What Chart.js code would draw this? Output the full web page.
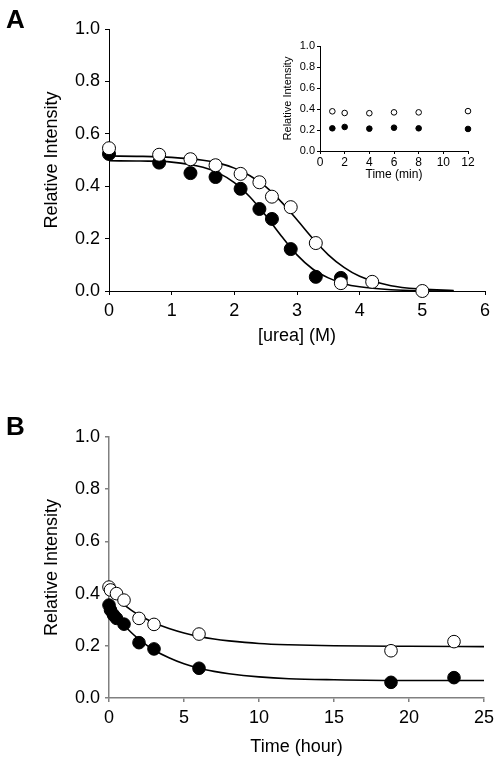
<!DOCTYPE html>
<html>
<head>
<meta charset="utf-8">
<script src="https://cdn.jsdelivr.net/npm/chart.js@4.4.1/dist/chart.umd.min.js"></script>
<style>
  html, body { margin: 0; padding: 0; background: #fff; }
  #wrap { position: relative; width: 500px; height: 765px; overflow: hidden; background: #fff; }
  canvas { position: absolute; }
  .lbl { position: absolute; font-family: "Liberation Sans", Arial, sans-serif; font-weight: bold; font-size: 26px; color: #000; line-height: 1; }
</style>
</head>
<body>
<div id="wrap">
  <canvas id="cA" width="500" height="380" style="left:0;top:0;"></canvas>
  <canvas id="cI" width="230" height="160" style="left:270px;top:30px;"></canvas>
  <canvas id="cB" width="500" height="385" style="left:0;top:380px;"></canvas>
  <div class="lbl" style="left:6px;top:6px;">A</div>
  <div class="lbl" style="left:6px;top:413px;">B</div>
</div>
<script>
// ---------- Panel A: urea denaturation ----------
const ureaFilledX = [0, 0.8, 1.3, 1.7, 2.1, 2.4, 2.6, 2.9, 3.3, 3.7];
const ureaFilledY = [0.523, 0.49, 0.45, 0.435, 0.39, 0.313, 0.275, 0.16, 0.054, 0.05];
const ureaOpenX = [0, 0.8, 1.3, 1.7, 2.1, 2.4, 2.6, 2.9, 3.3, 3.7, 4.2, 5.0];
const ureaOpenY = [0.545, 0.52, 0.503, 0.48, 0.447, 0.415, 0.36, 0.32, 0.183, 0.03, 0.035, 0.0];
// fitted curves
const ureaFitX = [0, 0.5, 1, 1.5, 1.75, 2, 2.25, 2.5, 2.75, 3, 3.25, 3.5, 3.75, 4, 4.5, 5, 5.5];
const ureaFitFilledY = [0.497, 0.496, 0.492, 0.472, 0.450, 0.414, 0.359, 0.288, 0.210, 0.138, 0.084, 0.050, 0.028, 0.016, 0.005, 0.001, 0.000];
const ureaFitOpenY = [0.515, 0.514, 0.510, 0.499, 0.488, 0.469, 0.440, 0.398, 0.340, 0.272, 0.201, 0.138, 0.090, 0.056, 0.020, 0.007, 0.002];
const ureaXTicks = [0, 1, 2, 3, 4, 5, 6];
const intensityTicks = [0, 0.2, 0.4, 0.6, 0.8, 1.0];

// ---------- Inset: time (min) ----------
const insetX = [1, 2, 4, 6, 8, 12];
const insetOpenY = [0.378, 0.362, 0.36, 0.368, 0.368, 0.38];
const insetFilledY = [0.216, 0.229, 0.213, 0.222, 0.216, 0.21];
const insetXTicks = [0, 2, 4, 6, 8, 10, 12];

// ---------- Panel B: time (hour) ----------
const timeFilledX = [0, 0.1, 0.3, 0.5, 1, 2, 3, 6, 18.8, 23];
const timeFilledY = [0.356, 0.337, 0.318, 0.305, 0.283, 0.212, 0.188, 0.114, 0.06, 0.078];
const timeOpenX = [0, 0.1, 0.5, 1, 2, 3, 6, 18.8, 23];
const timeOpenY = [0.425, 0.414, 0.40, 0.375, 0.305, 0.282, 0.245, 0.181, 0.216];
const decayFitX = [0, 0.5, 1, 1.5, 2, 3, 4, 5, 6, 7, 8, 10, 12, 15, 20, 25];
const decayFitFilledY = [0.357, 0.317, 0.281, 0.250, 0.225, 0.184, 0.154, 0.131, 0.114, 0.102, 0.093, 0.081, 0.074, 0.070, 0.067, 0.067];
const decayFitOpenY = [0.412, 0.383, 0.358, 0.336, 0.318, 0.288, 0.266, 0.249, 0.236, 0.226, 0.219, 0.209, 0.204, 0.200, 0.198, 0.197];
const timeXTicks = [0, 5, 10, 15, 20, 25];

const FONT = '"Liberation Sans", Arial, sans-serif';
const zip = (xs, ys) => xs.map((x, i) => ({x: x, y: ys[i]}));

function pointsDS(xs, ys, filled, r, order) {
  return {
    type: 'scatter', data: zip(xs, ys), showLine: false, order: order, clip: false,
    pointRadius: r, pointHoverRadius: r,
    pointBackgroundColor: filled ? '#000' : '#fff',
    pointBorderColor: '#000', pointBorderWidth: 1
  };
}
function lineDS(xs, ys, order) {
  return {
    type: 'scatter', data: zip(xs, ys), showLine: true, order: order, clip: false,
    borderColor: '#000', borderWidth: 1.6, pointRadius: 0, pointHoverRadius: 0,
    fill: false, cubicInterpolationMode: 'monotone'
  };
}
function axis(o) {
  return {
    type: 'linear', position: o.position, min: o.min, max: o.max,
    afterBuildTicks: a => { a.ticks = o.ticks.map(v => ({value: v})); },
    afterFit: s => { if (o.position === 'left') s.width = o.size; else s.height = o.size; },
    ticks: {
      color: '#000', font: {family: FONT, size: o.font}, padding: o.pad,
      maxRotation: 0, autoSkip: false,
      callback: o.fmt
    },
    grid: {display: true, drawOnChartArea: false, drawTicks: true, tickLength: o.tick, color: o.color, lineWidth: o.lw},
    border: {display: true, color: o.color, width: o.lw},
    title: {display: true, text: o.title, color: '#000', font: {family: FONT, size: o.tfont}, padding: o.tpad}
  };
}
function baseOptions(pad, xAx, yAx) {
  return {
    responsive: false, animation: false, devicePixelRatio: 1,
    layout: {padding: pad},
    plugins: {legend: {display: false}, tooltip: {enabled: false}},
    events: [],
    scales: {x: xAx, y: yAx}
  };
}
const f1 = v => v.toFixed(1);
const f0 = v => String(v);

// Panel A
new Chart(document.getElementById('cA'), {
  type: 'scatter',
  data: {datasets: [
    lineDS(ureaFitX, ureaFitFilledY, 3),
    lineDS(ureaFitX, ureaFitOpenY, 3),
    pointsDS(ureaFilledX, ureaFilledY, true, 6.5, 2),
    pointsDS(ureaOpenX, ureaOpenY, false, 6.5, 1)
  ]},
  options: baseOptions({left: 0, top: 29, right: 15, bottom: 29},
    axis({position: 'bottom', min: 0, max: 6, ticks: ureaXTicks, size: 60, font: 18, pad: 5, fmt: f0, tick: 4, color: '#000', lw: 1, title: '[urea] (M)', tfont: 18, tpad: {top: 0, bottom: 4}}),
    axis({position: 'left', min: 0, max: 1, ticks: intensityTicks, size: 109, font: 18, pad: 5, fmt: f1, tick: 4, color: '#000', lw: 1, title: 'Relative Intensity', tfont: 18, tpad: {top: 41, bottom: 0}})
  )
});

// Inset
new Chart(document.getElementById('cI'), {
  type: 'scatter',
  data: {datasets: [
    pointsDS(insetX, insetFilledY, true, 2.8, 1),
    pointsDS(insetX, insetOpenY, false, 2.8, 0)
  ]},
  options: baseOptions({left: 0, top: 16, right: 32, bottom: 3},
    axis({position: 'bottom', min: 0, max: 12, ticks: insetXTicks, size: 36, font: 12, pad: 1, fmt: f0, tick: 3, color: '#000', lw: 1, title: 'Time (min)', tfont: 12, tpad: {top: 0, bottom: 5}}),
    axis({position: 'left', min: 0, max: 1, ticks: intensityTicks, size: 50, font: 11, pad: 2, fmt: f1, tick: 3, color: '#000', lw: 1, title: 'Relative Intensity', tfont: 11, tpad: {top: 11, bottom: 0}})
  )
});

// Panel B
new Chart(document.getElementById('cB'), {
  type: 'scatter',
  data: {datasets: [
    lineDS(decayFitX, decayFitFilledY, 3),
    lineDS(decayFitX, decayFitOpenY, 3),
    pointsDS(timeOpenX, timeOpenY, false, 6.3, 2),
    pointsDS(timeFilledX, timeFilledY, true, 6.3, 1)
  ]},
  options: baseOptions({left: 0, top: 57, right: 16, bottom: 7},
    axis({position: 'bottom', min: 0, max: 25, ticks: timeXTicks, size: 60, font: 18, pad: 5, fmt: f0, tick: 4, color: '#808080', lw: 1.5, title: 'Time (hour)', tfont: 18, tpad: {top: 0, bottom: 0}}),
    axis({position: 'left', min: 0, max: 1, ticks: intensityTicks, size: 109, font: 18, pad: 5, fmt: f1, tick: 4, color: '#808080', lw: 1.5, title: 'Relative Intensity', tfont: 18, tpad: {top: 41, bottom: 0}})
  )
});
</script>
</body>
</html>
